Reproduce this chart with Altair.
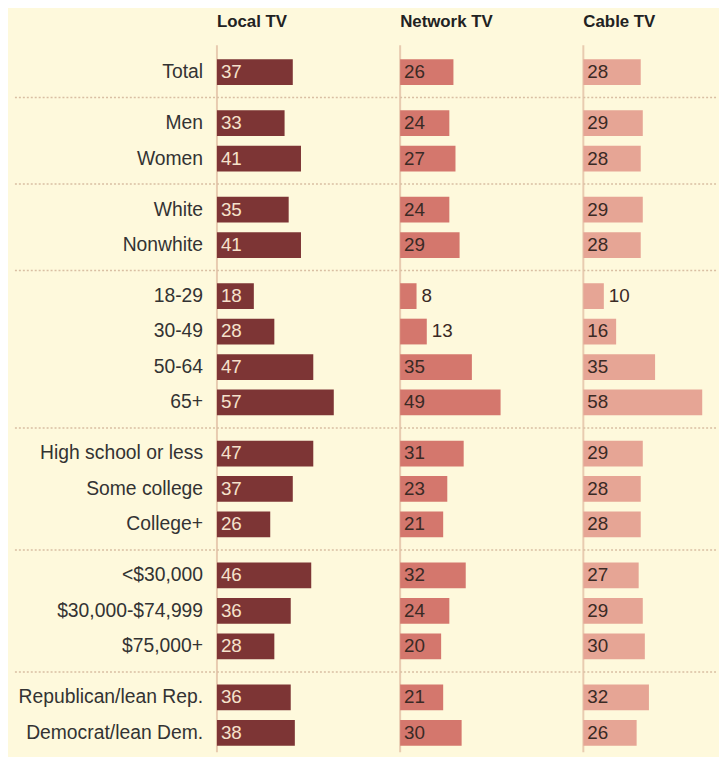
import altair as alt
import pandas as pd

# ---------------- data ----------------
categories = ["Total", "Men", "Women", "White", "Nonwhite", "18-29", "30-49", "50-64", "65+",
              "High school or less", "Some college", "College+", "<$30,000", "$30,000-$74,999",
              "$75,000+", "Republican/lean Rep.", "Democrat/lean Dem."]
groups = [0, 1, 1, 2, 2, 3, 3, 3, 3, 4, 4, 4, 5, 5, 5, 6, 6]
local_tv = [37, 33, 41, 35, 41, 18, 28, 47, 57, 47, 37, 26, 46, 36, 28, 36, 38]
network_tv = [26, 24, 27, 24, 29, 8, 13, 35, 49, 31, 23, 21, 32, 24, 20, 21, 30]
cable_tv = [28, 29, 28, 29, 28, 10, 16, 35, 58, 29, 28, 28, 27, 29, 30, 32, 26]
columns = ["Local TV", "Network TV", "Cable TV"]

# ---------------- style / layout ----------------
BG = "#FEF9DC"
BAR_COLORS = {"Local TV": "#7D3535", "Network TV": "#D4776D", "Cable TV": "#E6A595"}
VALUE_COLORS = {"Local TV": "#F6E2CC", "Network TV": "#3A2A25", "Cable TV": "#3A2A25"}
TEXT = "#333333"
SEP = "#D9BFA3"
BASE = "#E8CBB0"
FONT = "Liberation Sans"

GROUP_GAP = 0.44
Y_DOMAIN = [-1.704, 19.19]
HEADER_POS = -1.397
BASE_TOP = -0.754
PX_PER_UNIT = 2.07
HEIGHT = 748
LABEL_W = 209
PANEL_W = {"Local TV": 183, "Network TV": 183, "Cable TV": 136}

pos = [i + GROUP_GAP * g for i, g in enumerate(groups)]
seps = [(pos[i] + pos[i + 1]) / 2 for i in range(len(pos) - 1) if groups[i] != groups[i + 1]]

values = {"Local TV": local_tv, "Network TV": network_tv, "Cable TV": cable_tv}

rows_df = pd.DataFrame({"category": categories, "pos": pos})
sep_df = pd.DataFrame({"pos": seps})


def yenc(field="pos"):
    return alt.Y(f"{field}:Q",
                 scale=alt.Scale(domain=Y_DOMAIN, reverse=True, nice=False, zero=False, padding=0),
                 axis=None)


# labels panel
label_seps = alt.Chart(sep_df).mark_rule(color=SEP, strokeWidth=1.5, strokeDash=[2, 2]).encode(
    x=alt.value(7), x2=alt.value(LABEL_W), y=yenc())
label_text = alt.Chart(rows_df).mark_text(align="right", baseline="middle", font=FONT,
                                          fontSize=19.5, color=TEXT).encode(
    x=alt.value(LABEL_W - 12), y=yenc(), text="category:N")
label_panel = alt.layer(label_seps, label_text).properties(width=LABEL_W, height=HEIGHT)

panels = [label_panel]
for col in columns:
    w = PANEL_W[col]
    df = pd.DataFrame({"category": categories, "pos": pos, "value": values[col]})
    xs = alt.X("value:Q", scale=alt.Scale(domain=[0, w / PX_PER_UNIT], nice=False, zero=True, padding=0),
               axis=None)
    base_df = pd.DataFrame({"top": [BASE_TOP], "bottom": [Y_DOMAIN[1]]})
    head_df = pd.DataFrame({"pos": [HEADER_POS], "label": [col]})

    base_rule = alt.Chart(base_df).mark_rule(color=BASE, strokeWidth=2).encode(
        x=alt.value(0), y=yenc("top"), y2="bottom:Q")
    seps_rule = alt.Chart(sep_df).mark_rule(color=SEP, strokeWidth=1.5, strokeDash=[2, 2]).encode(
        x=alt.value(0), x2=alt.value(w), y=yenc())
    bars = alt.Chart(df).mark_bar(size=26, orient="horizontal", color=BAR_COLORS[col]).encode(
        x=xs, y=yenc())
    inside = alt.Chart(df).transform_filter("datum.value >= 15").mark_text(
        align="left", baseline="middle", font=FONT, fontSize=19, color=VALUE_COLORS[col]).encode(
        x=alt.value(4), y=yenc(), text="value:Q")
    outside = alt.Chart(df).transform_filter("datum.value < 15").mark_text(
        align="left", baseline="middle", dx=5, font=FONT, fontSize=19, color="#3A2A25").encode(
        x=xs, y=yenc(), text="value:Q")
    header = alt.Chart(head_df).mark_text(align="left", baseline="middle", font=FONT, fontSize=17,
                                          fontWeight="bold", color="#222222").encode(
        x=alt.value(0), y=yenc(), text="label:N")
    panels.append(alt.layer(base_rule, seps_rule, bars, inside, outside, header).properties(
        width=w, height=HEIGHT))

chart = alt.hconcat(*panels, spacing=0).properties(
    padding=0, background=BG
).configure_view(stroke=None).resolve_scale(x="independent", y="shared")

chart.save("out.html", embed_options={"renderer": "svg", "actions": False})
